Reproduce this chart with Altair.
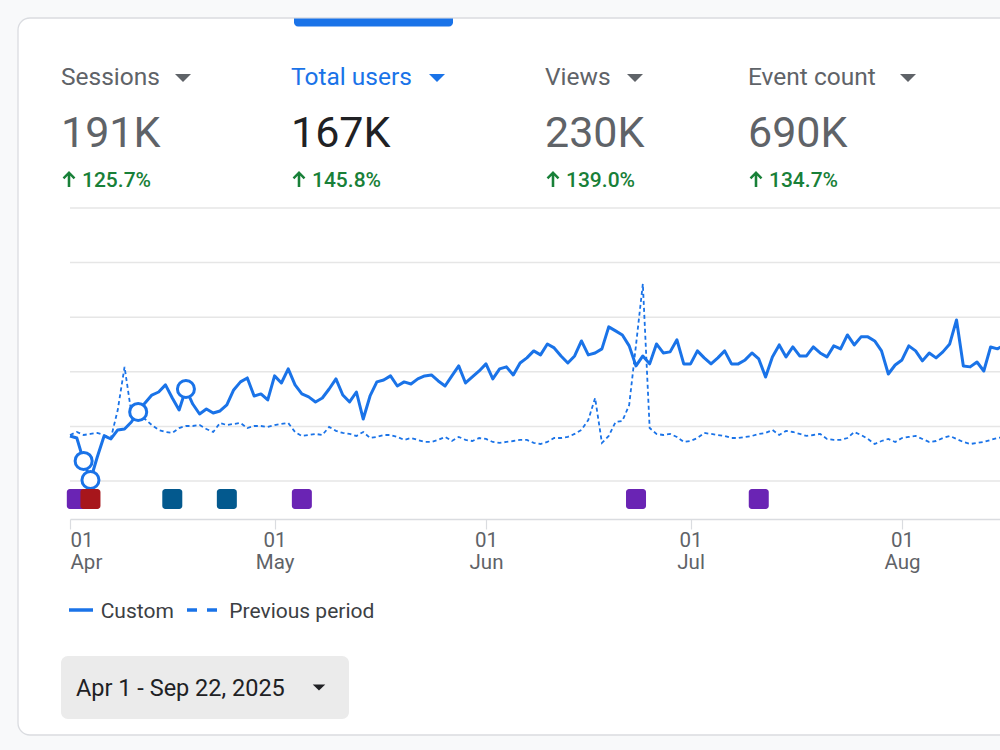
import altair as alt
import pandas as pd

# ---- Daily total users from Apr 1 (current range vs. comparison range) ----
custom_users = [
    # Apr
    330, 315, 147, 7, 176, 330, 308, 374, 381, 432, 506, 572, 630, 652, 704,
    608, 520, 674, 564, 491, 528, 498, 513, 557, 667, 726, 755, 623, 638, 594,
    # May
    770, 718, 821, 704, 638, 616, 579, 608, 674, 748, 630, 579, 652, 454, 623, 726,
    740, 770, 696, 726, 711, 748, 770, 777, 733, 696, 770, 843, 718, 762, 806,
    # Jun
    858, 748, 821, 836, 777, 865, 902, 953, 924, 1004, 975, 916, 865, 916, 1026,
    924, 938, 968, 1129, 1100, 1070, 990, 843, 916, 858, 1004, 938, 946, 1034, 858,
    # Jul
    858, 953, 902, 858, 902, 953, 858, 858, 887, 938, 894, 762, 909, 997, 909, 982,
    916, 916, 982, 938, 909, 990, 968, 1070, 997, 1056, 1056, 1026, 953, 784, 850,
    # Aug
    887, 990, 953, 880, 938, 902, 946, 1004, 1180, 843, 836, 872, 806, 982, 968, 997,
]
previous_users = [
    # Apr
    337, 359, 337, 345, 352, 337, 315, 520, 836, 498, 469, 454, 410, 374, 359,
    352, 388, 403, 403, 410, 381, 359, 425, 410, 418, 425, 388, 403, 403, 396,
    # May
    410, 418, 425, 359, 330, 337, 345, 337, 396, 367, 352, 345, 330, 359, 315, 323,
    337, 337, 323, 301, 315, 301, 286, 286, 301, 323, 293, 323, 301, 293, 315,
    # Jun
    308, 286, 279, 286, 293, 301, 301, 279, 271, 286, 315, 315, 323, 345, 374,
    447, 608, 279, 330, 432, 440, 557, 997, 1444, 388, 345, 337, 345, 323, 286,
    # Jul
    293, 315, 352, 345, 337, 330, 315, 315, 323, 330, 345, 352, 374, 337, 367, 359,
    345, 330, 337, 345, 308, 301, 301, 315, 359, 337, 308, 271, 293, 308, 286,
    # Aug
    315, 323, 330, 308, 286, 293, 315, 330, 308, 286, 271, 279, 286, 301, 315, 323,
]
anomaly_dates = ["2025-04-03", "2025-04-04", "2025-04-11", "2025-04-18"]

annotation_dates = ["2025-04-02", "2025-04-04", "2025-04-16", "2025-04-24",
                    "2025-05-05", "2025-06-23", "2025-07-11"]
annotation_kinds = ["Campaign", "Incident", "Release", "Release",
                    "Campaign", "Campaign", "Campaign"]

grid_values = [0, 400, 800, 1200, 1600, 2000]
series_names = ["Custom", "Previous period"]

metric_names = ["Sessions", "Total users", "Views", "Event count"]
metric_totals = ["191K", "167K", "230K", "690K"]
metric_changes = ["125.7%", "145.8%", "139.0%", "134.7%"]
selected_metric = "Total users"
date_range_label = "Apr 1 - Sep 22, 2025"

# ---- Layout / style ----
LEFT, TOP = 70, 208          # plot-area origin inside the page
PLOT_W, PLOT_H = 930, 311
BLUE = "#1a73e8"
GREY = "#5f6368"
DARK = "#202124"
GREEN = "#188038"
FONT = "Roboto"

col_x = [61, 291, 545, 748]
caret_x = [183, 437, 635, 908]

dates = pd.date_range("2025-04-01", periods=len(custom_users), freq="D").strftime("%Y-%m-%d")
df = pd.DataFrame({"date": dates, "custom": custom_users, "previous": previous_users})
anomalies = df[df["date"].isin(anomaly_dates)]
notes = pd.DataFrame({"date": annotation_dates, "kind": annotation_kinds})

x_scale = alt.Scale(
    type="utc",
    domain=[alt.DateTime(year=2025, month=4, date=1, utc=True),
            alt.DateTime(year=2025, month=8, date=15, hours=9, utc=True)],
    nice=False,
    padding=0,
)
x_axis = alt.Axis(
    values=[alt.DateTime(year=2025, month=m, date=1, utc=True) for m in range(4, 9)],
    labelExpr="[utcFormat(datum.value, '%d'), utcFormat(datum.value, '%b')]",
    grid=False, title=None, zindex=1,
    domainColor="#dadce0", domainWidth=1.5,
    tickColor="#dadce0", tickSize=10, tickWidth=1.2,
    labelFont=FONT, labelFontSize=20.5, labelColor=GREY, labelLineHeight=22,
    labelPadding=1, labelFlush=True, labelOverlap=False,
)
X = alt.X("date:T", scale=x_scale, axis=x_axis)
y_scale = alt.Scale(domain=[-278.4, 2000], nice=False, zero=False, padding=0)

one = pd.DataFrame({"k": [0]})

# card and selected-tab indicator
card = alt.Chart(one).mark_rect(
    fill="white", stroke="#dadce0", strokeWidth=1.3, cornerRadius=12
).encode(x=alt.value(18 - LEFT), x2=alt.value(1040 - LEFT),
         y=alt.value(18 - TOP), y2=alt.value(735 - TOP))
tab = alt.Chart(one).mark_rect(
    fill=BLUE, cornerRadiusBottomLeft=4, cornerRadiusBottomRight=4
).encode(x=alt.value(294 - LEFT), x2=alt.value(453 - LEFT),
         y=alt.value(18.5 - TOP), y2=alt.value(26.5 - TOP))

# horizontal grid
grid = alt.Chart(pd.DataFrame({"v": grid_values})).mark_rule(
    color="#e6e6e6", strokeWidth=1.5
).encode(y=alt.Y("v:Q", scale=y_scale, axis=None),
         x=alt.value(0), x2=alt.value(PLOT_W))

# lines
base = alt.Chart(df)
prev_line = base.mark_line(color=BLUE, strokeWidth=1.8, strokeDash=[4, 3]).encode(
    x=X, y=alt.Y("previous:Q", scale=y_scale, axis=None))
cur_line = base.mark_line(color=BLUE, strokeWidth=3, strokeJoin="round").encode(
    x=X, y=alt.Y("custom:Q", scale=y_scale, axis=None))
points = alt.Chart(anomalies).mark_point(
    shape="circle", filled=True, fill="white", stroke=BLUE, strokeWidth=3,
    size=290, opacity=1
).encode(x=X, y=alt.Y("custom:Q", scale=y_scale, axis=None))

# annotation markers under the zero line
markers = alt.Chart(notes).mark_bar(width=20, cornerRadius=3).encode(
    x=X,
    y=alt.value(489 - TOP), y2=alt.value(509 - TOP),
    color=alt.Color("kind:N", legend=None,
                    scale=alt.Scale(domain=["Campaign", "Incident", "Release"],
                                    range=["#6a24b4", "#a7161b", "#03598e"])),
)

# metric header
metrics = pd.DataFrame({
    "name": metric_names, "total": metric_totals, "change": metric_changes,
    "selected": [n == selected_metric for n in metric_names],
})
metrics["col"] = [c - LEFT for c in col_x]
metrics["arrow_x"] = metrics["col"] + 8
metrics["change_x"] = metrics["col"] + 21
metrics["caret"] = [c - LEFT for c in caret_x]

mbase = alt.Chart(metrics)
names = mbase.mark_text(align="left", baseline="alphabetic", font=FONT, fontSize=24.5).encode(
    x=alt.X("col:Q", scale=None), y=alt.value(85 - TOP), text="name:N",
    color=alt.condition("datum.selected", alt.value(BLUE), alt.value(GREY)))
carets = mbase.mark_point(
    shape="M-1,-0.5L1,-0.5L0,0.5Z", filled=True, size=256, opacity=1
).encode(
    x=alt.X("caret:Q", scale=None), y=alt.value(78 - TOP),
    color=alt.condition("datum.selected", alt.value(BLUE), alt.value(GREY)))
totals = mbase.mark_text(align="left", baseline="alphabetic", font=FONT, fontSize=43).encode(
    x=alt.X("col:Q", scale=None), y=alt.value(146.7 - TOP), text="total:N",
    color=alt.condition("datum.selected", alt.value(DARK), alt.value(GREY)))
arrows = mbase.mark_point(
    shape="M0,-1L0.8,-0.2L0.58,0.02L0.16,-0.4L0.16,1L-0.16,1L-0.16,-0.4L-0.58,0.02L-0.8,-0.2Z",
    filled=True, size=256, color=GREEN, opacity=1
).encode(x=alt.X("arrow_x:Q", scale=None), y=alt.value(179 - TOP))
changes = mbase.mark_text(align="left", baseline="alphabetic", font=FONT, fontSize=21,
                          fontWeight=500, color=GREEN).encode(
    x=alt.X("change_x:Q", scale=None), y=alt.value(187.3 - TOP), text="change:N")

# legend
legend_solid = alt.Chart(one).mark_rule(color=BLUE, strokeWidth=3.5).encode(
    x=alt.value(69 - LEFT), x2=alt.value(93 - LEFT), y=alt.value(610 - TOP))
legend_dash = alt.Chart(one).mark_rule(color=BLUE, strokeWidth=3.5, strokeDash=[10, 10]).encode(
    x=alt.value(187 - LEFT), x2=alt.value(217 - LEFT), y=alt.value(610 - TOP))
legend_text = alt.Chart(pd.DataFrame({"s": series_names, "lx": [100.7 - LEFT, 229.3 - LEFT]})).mark_text(
    align="left", baseline="alphabetic", font=FONT, fontSize=21, color="#3c4043"
).encode(x=alt.X("lx:Q", scale=None), y=alt.value(618.3 - TOP), text="s:N")

# date range selector
button = alt.Chart(one).mark_rect(fill="#ebebeb", cornerRadius=7).encode(
    x=alt.value(61 - LEFT), x2=alt.value(349 - LEFT),
    y=alt.value(656 - TOP), y2=alt.value(719 - TOP))
button_text = alt.Chart(pd.DataFrame({"t": [date_range_label]})).mark_text(
    align="left", baseline="alphabetic", font=FONT, fontSize=23.5, color=DARK
).encode(x=alt.value(76 - LEFT), y=alt.value(696 - TOP), text="t:N")
button_caret = alt.Chart(one).mark_point(
    shape="M-1,-0.5L1,-0.5L0,0.5Z", filled=True, size=156, color=DARK, opacity=1
).encode(x=alt.value(319 - LEFT), y=alt.value(687.5 - TOP))

chart = alt.layer(
    card, tab, grid, prev_line, cur_line, points, markers,
    names, carets, totals, arrows, changes,
    legend_solid, legend_dash, legend_text,
    button, button_text, button_caret,
).properties(
    width=PLOT_W, height=PLOT_H,
    padding={"left": LEFT, "top": TOP, "right": 1000 - LEFT - PLOT_W, "bottom": 750 - TOP - PLOT_H},
    autosize=alt.AutoSizeParams(type="none"),
    background="#f8f9fa",
).configure_view(stroke=None)

chart.save("out.html", embed_options={"renderer": "svg", "actions": False})
